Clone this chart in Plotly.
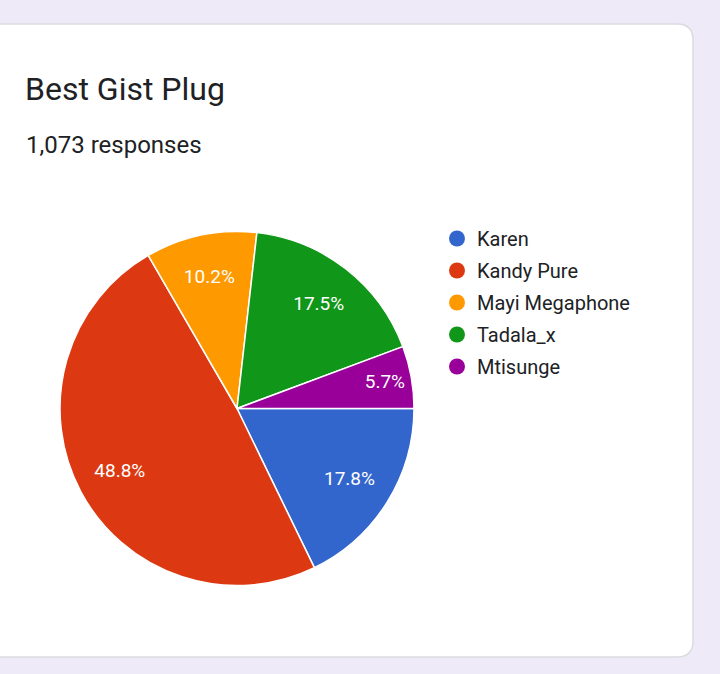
import plotly.graph_objects as go

# Best Gist Plug poll results (1,073 responses)
names = ["Karen", "Kandy Pure", "Mayi Megaphone", "Tadala_x", "Mtisunge"]
votes = [191, 524, 109, 188, 61]
colors = ["#3366CC", "#DC3912", "#FF9900", "#109618", "#990099"]

W, H = 720, 674


def px_x(v):
    return v / W


def px_y(v):
    return 1 - v / H


def card_path(x0, y0, x1, y1, r):
    # rounded rectangle in paper coordinates, built from pixel values
    rx, ry = r / W, r / H
    a, b, c, d = px_x(x0), px_y(y0), px_x(x1), px_y(y1)
    return (f"M {a},{b} L {c - rx},{b} Q {c},{b} {c},{b - ry} "
            f"L {c},{d + ry} Q {c},{d} {c - rx},{d} L {a},{d} Z")


pie_domain = dict(x=[px_x(60), px_x(414)], y=[px_y(586), px_y(231)])

fig = go.Figure()

# the coloured pie
fig.add_trace(go.Pie(
    labels=names,
    values=votes,
    marker=dict(colors=colors, line=dict(color="white", width=1.5)),
    sort=False,
    direction="clockwise",
    rotation=90,
    textinfo="none",
    domain=pie_domain,
    showlegend=False,
    hoverinfo="label+value+percent",
))

# transparent ring on top, only to put the labels at ~3/4 of the radius
fig.add_trace(go.Pie(
    labels=names,
    values=votes,
    hole=0.5,
    marker=dict(colors=["rgba(0,0,0,0)"] * len(names), line=dict(width=0)),
    sort=False,
    direction="clockwise",
    rotation=90,
    texttemplate="%{percent:.1%}",
    textposition="inside",
    insidetextorientation="horizontal",
    textfont=dict(family="Roboto", size=19, color="white"),
    domain=pie_domain,
    showlegend=False,
    hoverinfo="skip",
))

# legend entries with round markers
for i, (name, col) in enumerate(zip(names, colors)):
    fig.add_trace(go.Scatter(
        x=[None], y=[None], mode="markers", name=name,
        legendgroup=f"g{i}",
        marker=dict(color=col, size=20, symbol="circle"),
    ))

fig.update_layout(
    width=W, height=H,
    margin=dict(l=0, r=0, t=0, b=0),
    paper_bgcolor="#EEEAF8",
    plot_bgcolor="rgba(0,0,0,0)",
    xaxis=dict(visible=False),
    yaxis=dict(visible=False),
    font=dict(family="Roboto", color="#202124"),
    legend=dict(
        x=px_x(437), y=px_y(219), xanchor="left", yanchor="top",
        font=dict(family="Roboto", size=20, color="#202124"),
        bgcolor="rgba(0,0,0,0)", itemwidth=30, tracegroupgap=3,
    ),
    shapes=[dict(
        type="path", xref="paper", yref="paper", layer="below",
        path=card_path(-20, 24, 693, 657, 16),
        fillcolor="white", line=dict(color="#DADCE0", width=1.5),
    )],
    annotations=[
        dict(text="Best Gist Plug", xref="paper", yref="paper",
             x=px_x(23), y=px_y(89), xanchor="left", yanchor="middle",
             showarrow=False, font=dict(family="Roboto", size=32, color="#202124")),
        dict(text="1,073 responses", xref="paper", yref="paper",
             x=px_x(24), y=px_y(145), xanchor="left", yanchor="middle",
             showarrow=False, font=dict(family="Roboto", size=24, color="#202124")),
    ],
)

fig.write_html(
    "out.html",
    config={"displayModeBar": False},
    post_script="document.body.style.margin='0';"
                "document.body.style.overflow='hidden';"
                "document.body.style.background='#EEEAF8';",
)
